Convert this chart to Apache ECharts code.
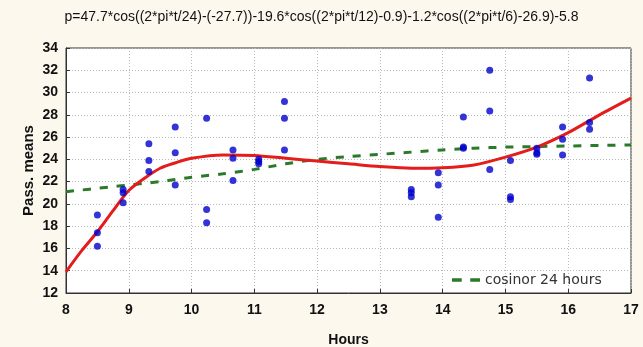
<!DOCTYPE html>
<html>
<head>
    <meta charset="UTF-8"/>
    <title>cosinor</title>
    <script src="https://cdn.jsdelivr.net/npm/echarts@6/dist/echarts.min.js"></script>
    <style>
        html, body { margin: 0; padding: 0; background: #fcf8ee; }
        #chart { width: 643px; height: 347px; }
    </style>
</head>
<body>
<div id="chart"></div>
<script>
    // observed points (hour, value)
    var pointHours = [8.5, 8.5, 8.5, 8.91, 8.91, 8.91, 9.32, 9.32, 9.32, 9.74, 9.74, 9.74,
        10.24, 10.24, 10.24, 10.66, 10.66, 10.66, 11.07, 11.07, 11.07, 11.48, 11.48, 11.48,
        13.5, 13.5, 13.5, 13.93, 13.93, 13.93, 14.33, 14.33, 14.33, 14.75, 14.75, 14.75,
        15.08, 15.08, 15.08, 15.5, 15.5, 15.5, 15.91, 15.91, 15.91, 16.34, 16.34, 16.34];
    var pointValues = [19.0, 17.4, 16.2, 21.3, 21.0, 20.1, 25.4, 23.9, 22.9, 26.9, 24.6, 21.7,
        27.7, 19.5, 18.3, 24.85, 24.1, 22.1, 24.0, 23.8, 23.6, 29.2, 27.7, 24.85,
        21.3, 21.0, 20.65, 22.8, 21.7, 18.8, 27.8, 25.1, 25.0, 32.0, 28.35, 23.1,
        23.9, 20.65, 20.4, 25.0, 24.6, 24.45, 26.9, 25.8, 24.4, 31.3, 27.3, 26.7];

    // fitted curves
    var curveHours = [8, 8.25, 8.5, 8.75, 9, 9.25, 9.5, 9.75, 10, 10.5, 11, 11.5, 12,
        12.5, 13, 13.5, 14, 14.5, 15, 15.5, 16, 16.5, 17];
    var fitValues = [13.9, 15.8, 17.5, 19.4, 21.2, 22.3, 23.2, 23.7, 24.1, 24.4, 24.35, 24.1, 23.85,
        23.6, 23.35, 23.2, 23.25, 23.5, 24.2, 25.1, 26.4, 28.0, 29.5];
    var cosinorValues = [21.1, 21.25, 21.4, 21.55, 21.7, 21.85, 22.0, 22.2, 22.4, 22.7, 23.1, 23.6, 24.0,
        24.25, 24.45, 24.65, 24.85, 25.0, 25.1, 25.15, 25.2, 25.25, 25.3];

    var xTicks = [8, 17, 1];
    var yTicks = [12, 34, 2];

    var titleText = 'p=47.7*cos((2*pi*t/24)-(-27.7))-19.6*cos((2*pi*t/12)-0.9)-1.2*cos((2*pi*t/6)-26.9)-5.8';

    function pairs(xs, ys) {
        var out = [];
        for (var i = 0; i < xs.length; i++) out.push([xs[i], ys[i]]);
        return out;
    }

    var tickFont = {
        fontFamily: '"Liberation Sans Narrow", "Liberation Sans", Arial',
        fontWeight: 'bold',
        fontSize: 14,
        color: '#111'
    };
    var gridLine = { show: true, lineStyle: { color: '#b8b8b8', type: [1, 2], width: 1 } };
    var frame = { show: true, lineStyle: { color: '#333', width: 1 } };

    var chart = echarts.init(document.getElementById('chart'));
    chart.setOption({
        backgroundColor: '#fcf8ee',
        animation: false,
        title: {
            text: titleText,
            left: 'center',
            top: 5,
            textStyle: { fontFamily: '"Liberation Sans", Arial', fontSize: 14, fontWeight: 'normal', color: '#111' }
        },
        legend: {
            data: [{ name: 'cosinor 24 hours', icon: 'path://M0,4 L8,4 L8,7 L0,7 Z M15,4 L23,4 L23,7 L15,7 Z' }],
            left: 447, top: 268,
            itemWidth: 28, itemHeight: 10, itemGap: 6,
            itemStyle: { color: '#2a7a2a' },
            textStyle: { fontFamily: 'Verdana, "DejaVu Sans"', fontSize: 14, color: '#333' }
        },
        grid: {
            left: 66, top: 48, width: 565, height: 245,
            outerBoundsMode: 'none', containLabel: false,
            show: true, backgroundColor: '#ffffff', borderColor: '#333', borderWidth: 1
        },
        xAxis: {
            type: 'value',
            min: xTicks[0], max: xTicks[1], interval: xTicks[2],
            name: 'Hours', nameLocation: 'middle', nameGap: 40,
            nameTextStyle: tickFont,
            axisLine: frame,
            axisTick: { show: true, inside: true, length: 4, lineStyle: { color: '#333' } },
            axisLabel: Object.assign({ margin: 10 }, tickFont),
            splitLine: gridLine
        },
        yAxis: {
            type: 'value',
            min: yTicks[0], max: yTicks[1], interval: yTicks[2],
            name: 'Pass. means', nameLocation: 'middle', nameGap: 30, nameRotate: 90,
            nameMoveOverlap: false,
            nameTextStyle: Object.assign({}, tickFont, { fontSize: 15 }),
            axisLine: frame,
            axisTick: { show: true, inside: true, length: 4, lineStyle: { color: '#333' } },
            axisLabel: Object.assign({ margin: 8 }, tickFont),
            splitLine: gridLine
        },
        series: [
            {
                name: 'cosinor 24 hours',
                type: 'line',
                data: pairs(curveHours, cosinorValues),
                smooth: 0.3,
                showSymbol: false,
                lineStyle: { color: '#2a7a2a', width: 3, type: [8, 9] },
                itemStyle: { color: '#2a7a2a' },
                z: 2
            },
            {
                name: 'fit',
                type: 'line',
                data: pairs(curveHours, fitValues),
                smooth: 0.3,
                showSymbol: false,
                lineStyle: { color: '#e41c1c', width: 3 },
                z: 3
            },
            {
                name: 'points',
                type: 'scatter',
                data: pairs(pointHours, pointValues),
                symbol: 'circle',
                symbolSize: 7,
                itemStyle: { color: '#0000cc' },
                z: 4
            }
        ]
    });
</script>
</body>
</html>
